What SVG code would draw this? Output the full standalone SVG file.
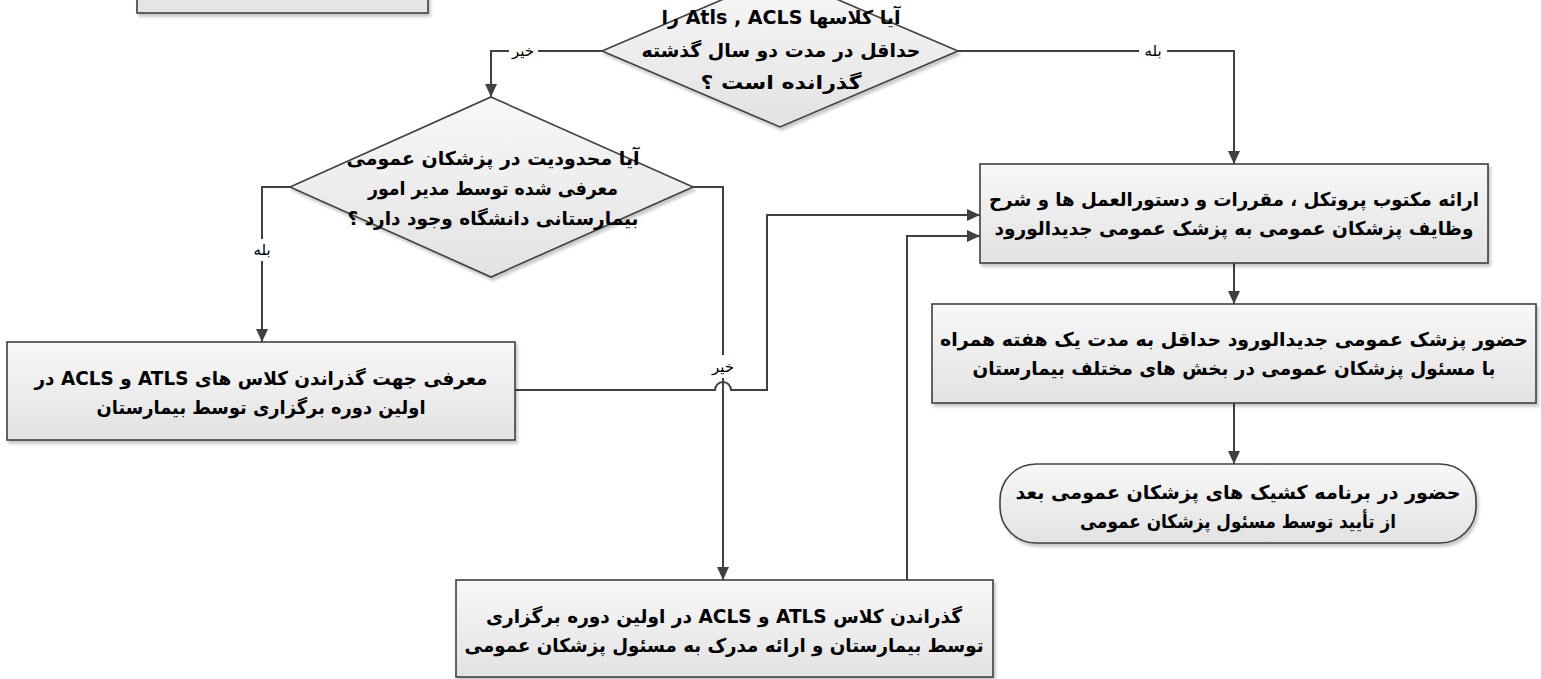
<svg xmlns="http://www.w3.org/2000/svg" width="1541" height="679" viewBox="0 0 1541 679">
<defs>
<linearGradient id="fillG" x1="0" y1="0" x2="0" y2="1">
<stop offset="0" stop-color="#f8f8f8"/>
<stop offset="1" stop-color="#e2e2e2"/>
</linearGradient>
<filter id="sh" x="-5%" y="-5%" width="115%" height="125%">
<feDropShadow dx="2" dy="3" stdDeviation="1.5" flood-color="#000" flood-opacity="0.22"/>
</filter>
<marker id="arr" markerUnits="userSpaceOnUse" markerWidth="14" markerHeight="12" refX="13" refY="6" orient="auto">
<path d="M0,0 L13,6 L0,12 z" fill="#404040"/>
</marker>
</defs>
<style>
.shape{fill:url(#fillG);stroke:#404040;stroke-width:1.6;filter:url(#sh)}
.t{font-family:"DejaVu Sans",sans-serif;font-weight:bold;font-size:19px;fill:#000;text-anchor:middle;direction:rtl}
.lbl{font-family:"DejaVu Sans",sans-serif;font-size:15px;fill:#000;text-anchor:middle;direction:rtl}
.con{fill:none;stroke:#404040;stroke-width:2}
.bg{fill:#fff}
</style>

<g id="connectors">
<path class="con" d="M602,51 H491 V97" marker-end="url(#arr)"/>
<path class="con" d="M958,51 H1234 V164" marker-end="url(#arr)"/>
<path class="con" d="M290,187 H262 V342" marker-end="url(#arr)"/>
<path class="con" d="M693,187 H723 V580" marker-end="url(#arr)"/>
<path class="con" d="M515,390 H715 A8,8 0 0 1 731,390 H767 V215 H980" marker-end="url(#arr)"/>
<path class="con" d="M907,580 V236 H980" marker-end="url(#arr)"/>
<path class="con" d="M1234,263 V304" marker-end="url(#arr)"/>
<path class="con" d="M1234,403 V464" marker-end="url(#arr)"/>
<rect class="bg" x="509" y="42" width="29" height="18"/>
<text class="lbl" x="523" y="56">خیر</text>
<rect class="bg" x="1139" y="42" width="28" height="18"/>
<text class="lbl" x="1153" y="56">بله</text>
<rect class="bg" x="249" y="239" width="26" height="22"/>
<text class="lbl" x="262" y="255">بله</text>
<rect class="bg" x="709" y="355" width="29" height="23"/>
<text class="lbl" x="723" y="372">خیر</text>
</g>

<g id="node-topbox">
<rect class="shape" x="137" y="-60" width="291" height="73"/>
</g>

<g id="node-decision1">
<polygon class="shape" points="780,-25 958,51 780,127 602,51"/>
<text class="t" x="781" y="24" textLength="239" lengthAdjust="spacingAndGlyphs">آیا کلاسها Atls , ACLS را</text>
<text class="t" x="781" y="57" textLength="279" lengthAdjust="spacingAndGlyphs">حداقل در مدت دو سال گذشته</text>
<text class="t" x="781" y="89" textLength="161" lengthAdjust="spacingAndGlyphs">گذرانده است ؟</text>
</g>

<g id="node-decision2">
<polygon class="shape" points="491,97 693,187 491,277 290,187"/>
<text class="t" x="493" y="165" textLength="293" lengthAdjust="spacingAndGlyphs">آیا محدودیت در پزشکان عمومی</text>
<text class="t" x="493" y="195" textLength="250" lengthAdjust="spacingAndGlyphs">معرفی شده توسط مدیر امور</text>
<text class="t" x="493" y="225" textLength="291" lengthAdjust="spacingAndGlyphs">بیمارستانی دانشگاه وجود دارد ؟</text>
</g>

<g id="node-introduce">
<rect class="shape" x="7" y="342" width="508" height="98"/>
<text class="t" x="261" y="385" textLength="453" lengthAdjust="spacingAndGlyphs">معرفی جهت گذراندن کلاس های ATLS و ACLS در</text>
<text class="t" x="261" y="414" textLength="329" lengthAdjust="spacingAndGlyphs">اولین دوره برگزاری توسط بیمارستان</text>
</g>

<g id="node-pass">
<rect class="shape" x="456" y="580" width="537" height="97"/>
<text class="t" x="724" y="623" textLength="476" lengthAdjust="spacingAndGlyphs">گذراندن کلاس ATLS و ACLS در اولین دوره برگزاری</text>
<text class="t" x="724" y="652" textLength="519" lengthAdjust="spacingAndGlyphs">توسط بیمارستان و ارائه مدرک به مسئول پزشکان عمومی</text>
</g>

<g id="node-protocol">
<rect class="shape" x="980" y="164" width="508" height="99"/>
<text class="t" x="1234" y="206" textLength="490" lengthAdjust="spacingAndGlyphs">ارائه مکتوب پروتکل ، مقررات و دستورالعمل ها و شرح</text>
<text class="t" x="1234" y="235" textLength="479" lengthAdjust="spacingAndGlyphs">وظایف پزشکان عمومی به پزشک عمومی جدیدالورود</text>
</g>

<g id="node-presence">
<rect class="shape" x="932" y="304" width="604" height="99"/>
<text class="t" x="1234" y="346" textLength="588" lengthAdjust="spacingAndGlyphs">حضور پزشک عمومی جدیدالورود حداقل به مدت یک هفته همراه</text>
<text class="t" x="1234" y="375" textLength="523" lengthAdjust="spacingAndGlyphs">با مسئول پزشکان عمومی در بخش های مختلف بیمارستان</text>
</g>

<g id="node-terminal">
<rect class="shape" x="1000" y="464" width="476" height="79" rx="36" ry="36"/>
<text class="t" x="1238" y="499" textLength="445" lengthAdjust="spacingAndGlyphs">حضور در برنامه کشیک های پزشکان عمومی بعد</text>
<text class="t" x="1238" y="528" textLength="316" lengthAdjust="spacingAndGlyphs">از تأیید توسط مسئول پزشکان عمومی</text>
</g>
</svg>
